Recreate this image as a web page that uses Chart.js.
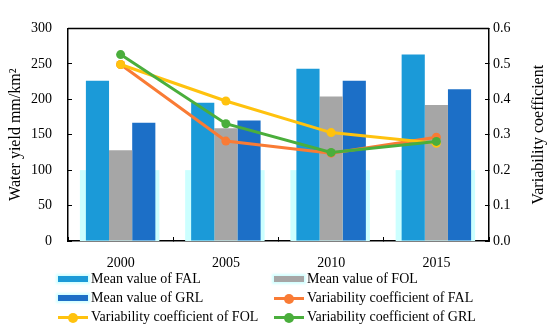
<!DOCTYPE html>
<html>
<head>
<meta charset="utf-8">
<script src="https://cdn.jsdelivr.net/npm/chart.js@4"></script>
<style>
  body { margin: 0; background: #fff; }
  #wrap { position: relative; width: 550px; height: 325px; }
  #legend { position: absolute; left: 0; top: 270px; width: 550px; font: 14px "Liberation Serif", serif; color: #000; }
  .item { position: absolute; height: 18px; line-height: 18px; white-space: nowrap; }
  .sw { display: inline-block; width: 30px; height: 18px; vertical-align: top; position: relative; margin-right: 3px; }
  .bar { position: absolute; left: 0; top: 6px; width: 30px; height: 6px; box-shadow: 0 0 2px 2px #d4ffff; }
  .ln { position: absolute; left: 0; top: 8px; width: 30px; height: 3px; }
  .dot { position: absolute; left: 10px; top: 4.5px; width: 10px; height: 10px; border-radius: 50%; }
</style>
</head>
<body>
<div id="wrap">
  <canvas id="chart" width="550" height="325"></canvas>
  <div id="legend"></div>
</div>
<script>
const years = ['2000', '2005', '2010', '2015'];
const meanFAL = [226, 195, 243, 263];
const meanFOL = [128, 159, 204, 192];
const meanGRL = [167, 170, 226, 214];
const cvFAL = [0.498, 0.282, 0.248, 0.293];
const cvFOL = [0.498, 0.395, 0.306, 0.276];
const cvGRL = [0.526, 0.331, 0.250, 0.281];

const serif = '"Liberation Serif", "Times New Roman", serif';
const rightTitle = 'Variability coefficient';

// pale cyan band drawn under the lower part of each bar group
const glow = {
  id: 'glow',
  beforeDatasetsDraw(chart) {
    const ctx = chart.ctx;
    const y = chart.scales.y;
    const m0 = chart.getDatasetMeta(0), m2 = chart.getDatasetMeta(2);
    ctx.save();
    ctx.fillStyle = '#ccffff';
    for (let i = 0; i < years.length; i++) {
      const a = m0.data[i], b = m2.data[i];
      const left = a.x - a.width / 2 - 6;
      const right = b.x + b.width / 2 + 4;
      const top = y.getPixelForValue(100);
      ctx.fillRect(left, top, right - left, y.getPixelForValue(0) - top);
    }
    ctx.restore();
  },
  afterDraw(chart) {
    const a = chart.chartArea, ctx = chart.ctx;
    ctx.save();
    ctx.strokeStyle = '#000';
    ctx.lineWidth = 1.5;
    ctx.beginPath();
    ctx.moveTo(a.left, a.top);
    ctx.lineTo(a.right, a.top);
    ctx.stroke();
    // right axis title reads bottom to top, like the left one
    ctx.translate(539, (a.top + a.bottom) / 2);
    ctx.rotate(-Math.PI / 2);
    ctx.fillStyle = '#000';
    ctx.font = '16px ' + serif;
    ctx.textAlign = 'center';
    ctx.textBaseline = 'middle';
    ctx.fillText(rightTitle, 0, 0);
    ctx.restore();
  }
};

const barDs = (label, data, color) => ({
  type: 'bar', label, data, backgroundColor: color, yAxisID: 'y', order: 10,
  barPercentage: 1, categoryPercentage: 0.66
});
const lineDs = (label, data, color, order) => ({
  type: 'line', label, data, borderColor: color, backgroundColor: color, yAxisID: 'y1',
  borderWidth: 3, pointRadius: 4.5, pointBackgroundColor: color, pointBorderWidth: 0,
  tension: 0, order
});

const chart = new Chart(document.getElementById('chart'), {
  data: {
    labels: years,
    datasets: [
      barDs('Mean value of FAL', meanFAL, '#1b9ad8'),
      barDs('Mean value of FOL', meanFOL, '#a6a6a6'),
      barDs('Mean value of GRL', meanGRL, '#1c6fc7'),
      lineDs('Variability coefficient of FAL', cvFAL, '#f97b35', 3),
      lineDs('Variability coefficient of FOL', cvFOL, '#ffc20e', 2),
      lineDs('Variability coefficient of GRL', cvGRL, '#4aae3c', 1)
    ]
  },
  options: {
    responsive: false,
    animation: false,
    layout: { padding: { top: 15, bottom: 54 } },
    plugins: { legend: { display: false }, tooltip: { enabled: false } },
    scales: {
      x: {
        grid: { drawOnChartArea: false, tickLength: -4, color: '#000', lineWidth: 1 },
        border: { color: '#000', width: 1.5 },
        ticks: { color: '#000', font: { family: serif, size: 14 }, padding: 18 },
        afterFit: s => { s.height = 30; }
      },
      y: {
        position: 'left', min: 0, max: 300,
        grid: { drawOnChartArea: false, tickLength: -4, color: '#000', lineWidth: 1 },
        border: { color: '#000', width: 1.5 },
        ticks: { stepSize: 50, color: '#000', font: { family: serif, size: 14 }, padding: 20 },
        title: { display: true, text: 'Water yield mm/km²', color: '#000',
                 font: { family: serif, size: 16 }, padding: { top: 6, bottom: 0 } },
        afterFit: s => { s.width = 68; }
      },
      y1: {
        position: 'right', min: 0, max: 0.6,
        grid: { drawOnChartArea: false, tickLength: -4, color: '#000', lineWidth: 1 },
        border: { color: '#000', width: 1.5 },
        ticks: { stepSize: 0.1, color: '#000', font: { family: serif, size: 14 }, padding: 8,
                 callback: v => v.toFixed(1) },
        afterFit: s => { s.width = 61; }
      }
    }
  },
  plugins: [glow]
});

// two-column legend under the chart
const legend = document.getElementById('legend');
const cols = [58, 274];
chart.data.datasets.forEach((ds, i) => {
  const item = document.createElement('div');
  item.className = 'item';
  item.style.left = cols[i % 2] + 'px';
  item.style.top = (Math.floor(i / 2) * 19) + 'px';
  const sw = document.createElement('span');
  sw.className = 'sw';
  if (ds.type === 'bar') {
    sw.innerHTML = '<span class="bar" style="background:' + ds.backgroundColor + '"></span>';
  } else {
    sw.innerHTML = '<span class="ln" style="background:' + ds.borderColor + '"></span>' +
      '<span class="dot" style="background:' + ds.borderColor + '"></span>';
  }
  item.appendChild(sw);
  item.appendChild(document.createTextNode(ds.label));
  legend.appendChild(item);
});
</script>
</body>
</html>
